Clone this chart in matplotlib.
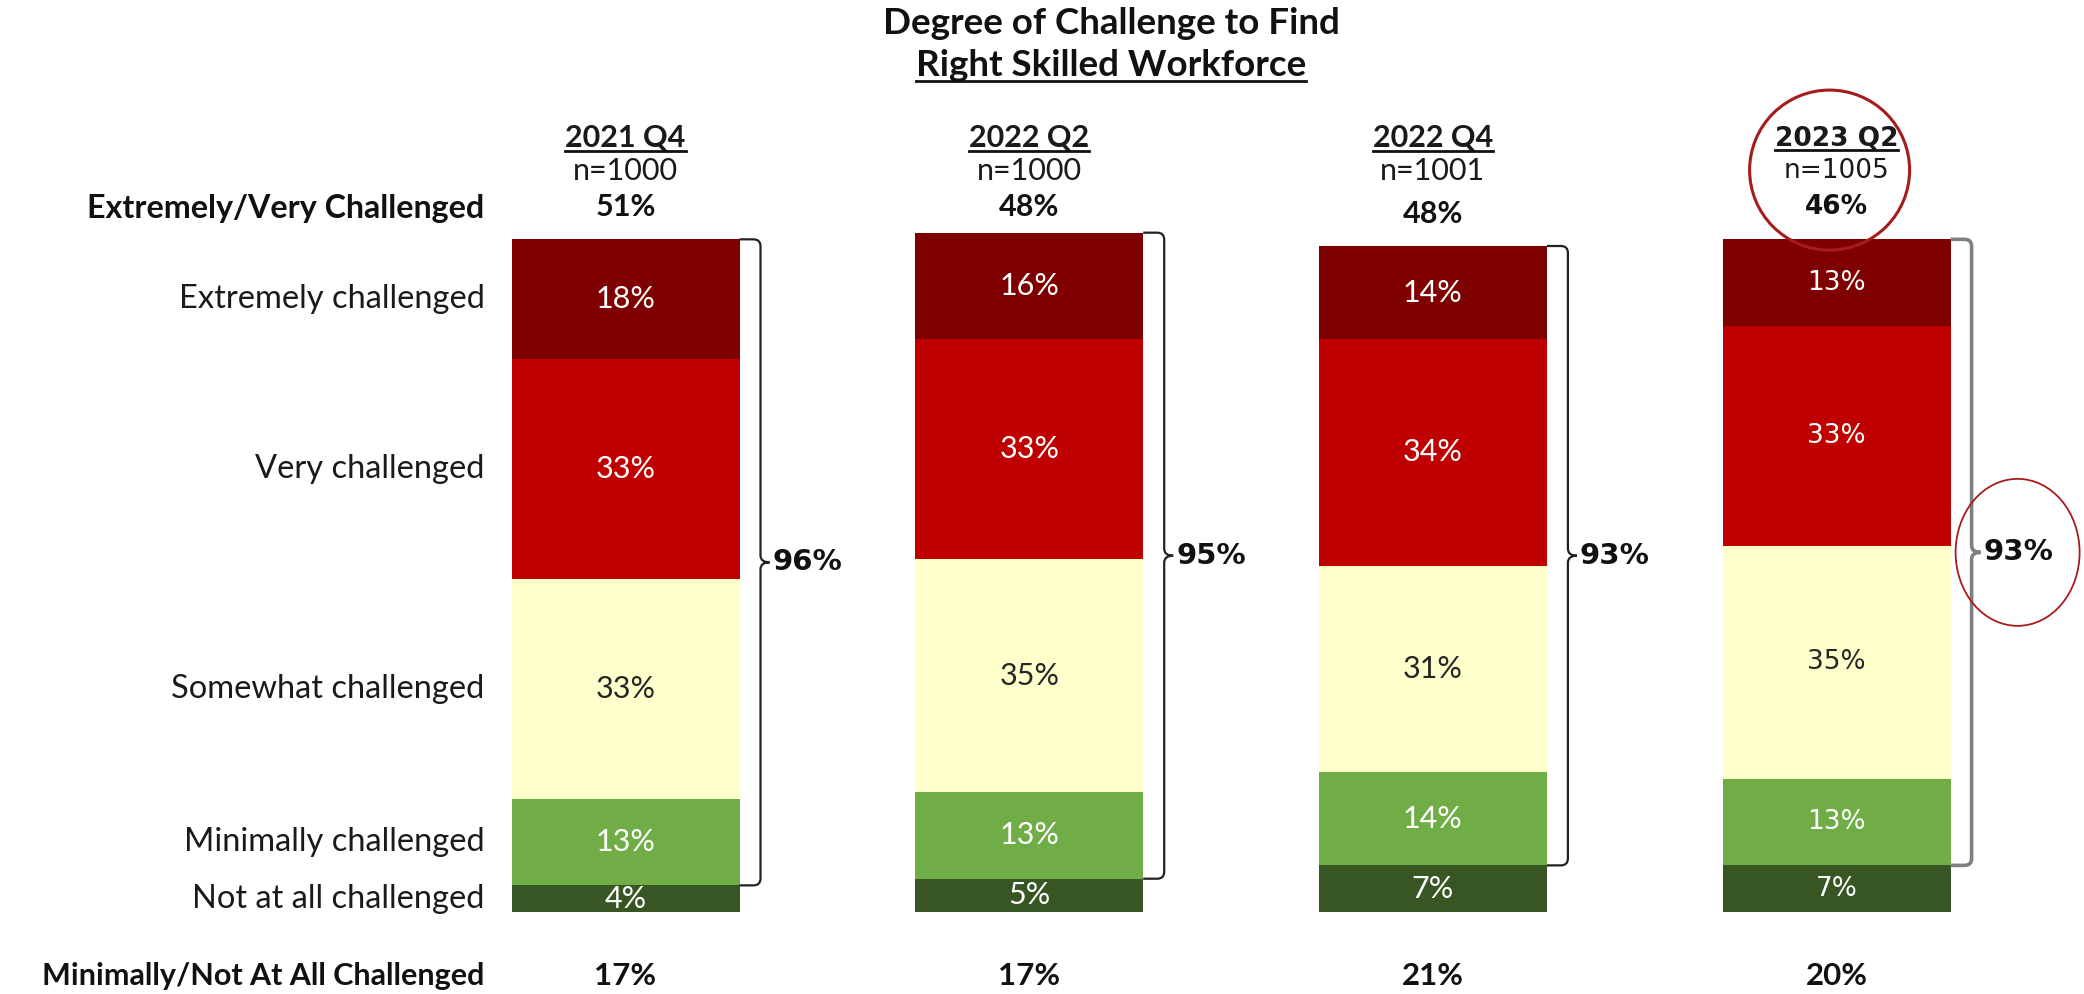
import matplotlib
matplotlib.use("Agg")
import matplotlib.pyplot as plt
import numpy as np
from matplotlib.path import Path
from matplotlib.patches import PathPatch, Ellipse
from matplotlib.lines import Line2D

# ---------------------------------------------------------------
# Data
# ---------------------------------------------------------------
waves = ["2021 Q4", "2022 Q2", "2022 Q4", "2023 Q2"]
n_labels = ["n=1000", "n=1000", "n=1001", "n=1005"]
categories = ["Extremely challenged", "Very challenged", "Somewhat challenged",
              "Minimally challenged", "Not at all challenged"]
extremely = [18, 16, 14, 13]
very = [33, 33, 34, 33]
somewhat = [33, 35, 31, 35]
minimally = [13, 13, 14, 13]
not_at_all = [4, 5, 7, 7]
top2 = [51, 48, 48, 46]
bottom2 = [17, 17, 21, 20]
any_challenge = [96, 95, 93, 93]

series = [extremely, very, somewhat, minimally, not_at_all]
colors = ["#7F0000", "#C00000", "#FFFFCC", "#70AD47", "#375623"]
txt_cols = ["white", "white", "#262626", "white", "white"]

CAL = "Lato"
VER = "DejaVu Sans"

W, H, DPI = 2084, 994, 100
PX_X = 403.7   # pixels per category step
PX_Y = 6.66    # pixels per percentage point

fig = plt.figure(figsize=(W / DPI, H / DPI), dpi=DPI)
ax = fig.add_axes([0, 0, 1, 1])
ax.set_xlim(-625.5 / PX_X, (W - 625.5) / PX_X)
ax.set_ylim(-(H - 912) / PX_Y, 912 / PX_Y)
ax.axis("off")

pos = np.arange(len(waves))
bw = 228 / PX_X

# stacked bars, bottom segment first
bottoms = np.zeros(len(waves))
seg_mid = {}
for i in range(len(series) - 1, -1, -1):
    vals = np.array(series[i], dtype=float)
    ax.bar(pos, vals, bw, bottom=bottoms, color=colors[i], edgecolor="none")
    seg_mid[i] = bottoms + vals / 2
    bottoms = bottoms + vals
totals = bottoms

def font_for(j):
    return VER if j == 3 else CAL

# segment labels
for i in range(len(series)):
    for j in range(len(waves)):
        fam = font_for(j)
        ax.text(pos[j], seg_mid[i][j], f"{series[i][j]}%", ha="center", va="center",
                color=txt_cols[i], family=fam, fontsize=19 if fam == VER else 22)

# category labels on the left, lined up with the first bar's segments
lab_x = pos[0] - bw / 2 - 27 / PX_X
for i, c in enumerate(categories):
    ax.text(lab_x, seg_mid[i][0], c, ha="right", va="center", family=CAL,
            fontsize=23.5, color="#1a1a1a")

# headers
underline = []
for j in range(len(waves)):
    fam = font_for(j)
    fs = 19 if fam == VER else 22
    t = ax.text(pos[j], 116.2, waves[j], ha="center", va="center", family=fam,
                fontsize=fs, fontweight="bold", color="#1a1a1a")
    underline.append(t)
    ax.text(pos[j], 111.3, n_labels[j], ha="center", va="center", family=fam,
            fontsize=fs, color="#1a1a1a")
    ax.text(pos[j], min(totals[j], totals[0]) + 4.8, f"{top2[j]}%", ha="center",
            va="center", family=fam, fontsize=fs, fontweight="bold", color="#111111")
    ax.text(pos[j], -9.6, f"{bottom2[j]}%", ha="center", va="center", family=CAL,
            fontsize=22.5, fontweight="bold", color="#111111")

ax.text(lab_x, totals[0] + 4.6, "Extremely/Very Challenged", ha="right", va="center",
        family=CAL, fontsize=23.2, fontweight="bold", color="#111111")
ax.text(lab_x, -9.6, "Minimally/Not At All Challenged", ha="right", va="center",
        family=CAL, fontsize=22, fontweight="bold", color="#111111")


# brackets
def brace(x_edge, y_top, y_bot, color, lw):
    gx = x_edge + 21 / PX_X
    hx = 7 / PX_X
    hy = 7 / PX_Y
    tip = 9 / PX_X
    mid = (y_top + y_bot) / 2
    verts = [(x_edge, y_top), (gx - hx, y_top), (gx, y_top), (gx, y_top - hy),
             (gx, mid + hy), (gx, mid), (gx + tip, mid), (gx, mid), (gx, mid - hy),
             (gx, y_bot + hy), (gx, y_bot), (gx - hx, y_bot), (x_edge, y_bot)]
    codes = [Path.MOVETO, Path.LINETO, Path.CURVE3, Path.CURVE3, Path.LINETO,
             Path.CURVE3, Path.CURVE3, Path.CURVE3, Path.CURVE3, Path.LINETO,
             Path.CURVE3, Path.CURVE3, Path.LINETO]
    ax.add_patch(PathPatch(Path(verts, codes), fill=False, edgecolor=color, lw=lw))
    return mid

for j in range(len(waves)):
    right = pos[j] + bw / 2
    col, lw = ("#808080", 2.6) if j == 3 else ("#222222", 1.6)
    mid = brace(right, totals[j], not_at_all[j], col, lw)
    ax.text(right + 33 / PX_X, mid, f"{any_challenge[j]}%", ha="left", va="center",
            family=VER, fontsize=21, fontweight="bold", color="#111111")

# red highlight circles on the latest wave
ax.add_patch(Ellipse((pos[3] - 7 / PX_X, 111.4), 160 / PX_X, 160 / PX_Y, fill=False,
                     edgecolor="#A61C1C", lw=2.2))
ax.add_patch(Ellipse((pos[3] + bw / 2 + 67 / PX_X, (totals[3] + not_at_all[3]) / 2),
                     124 / PX_X, 147 / PX_Y, fill=False, edgecolor="#A61C1C", lw=1.3))

# title
fig.text(1111 / W, 1 - 24 / H, "Degree of Challenge to Find", ha="center", va="center",
         family=CAL, fontsize=26.5, fontweight="bold", color="#111111")
t2 = fig.text(1111 / W, 1 - 65 / H, "Right Skilled Workforce", ha="center", va="center",
              family=CAL, fontsize=26.5, fontweight="bold", color="#111111")
underline.append(t2)

# underline the headers
fig.canvas.draw()
r = fig.canvas.get_renderer()
for t in underline:
    bb = t.get_window_extent(r)
    y = bb.y0 + 1
    fig.add_artist(Line2D([bb.x0 / W, bb.x1 / W], [y / H, y / H], transform=fig.transFigure,
                          color="#111111", lw=2.0))

fig.savefig("out.png", dpi=DPI, facecolor="white")
